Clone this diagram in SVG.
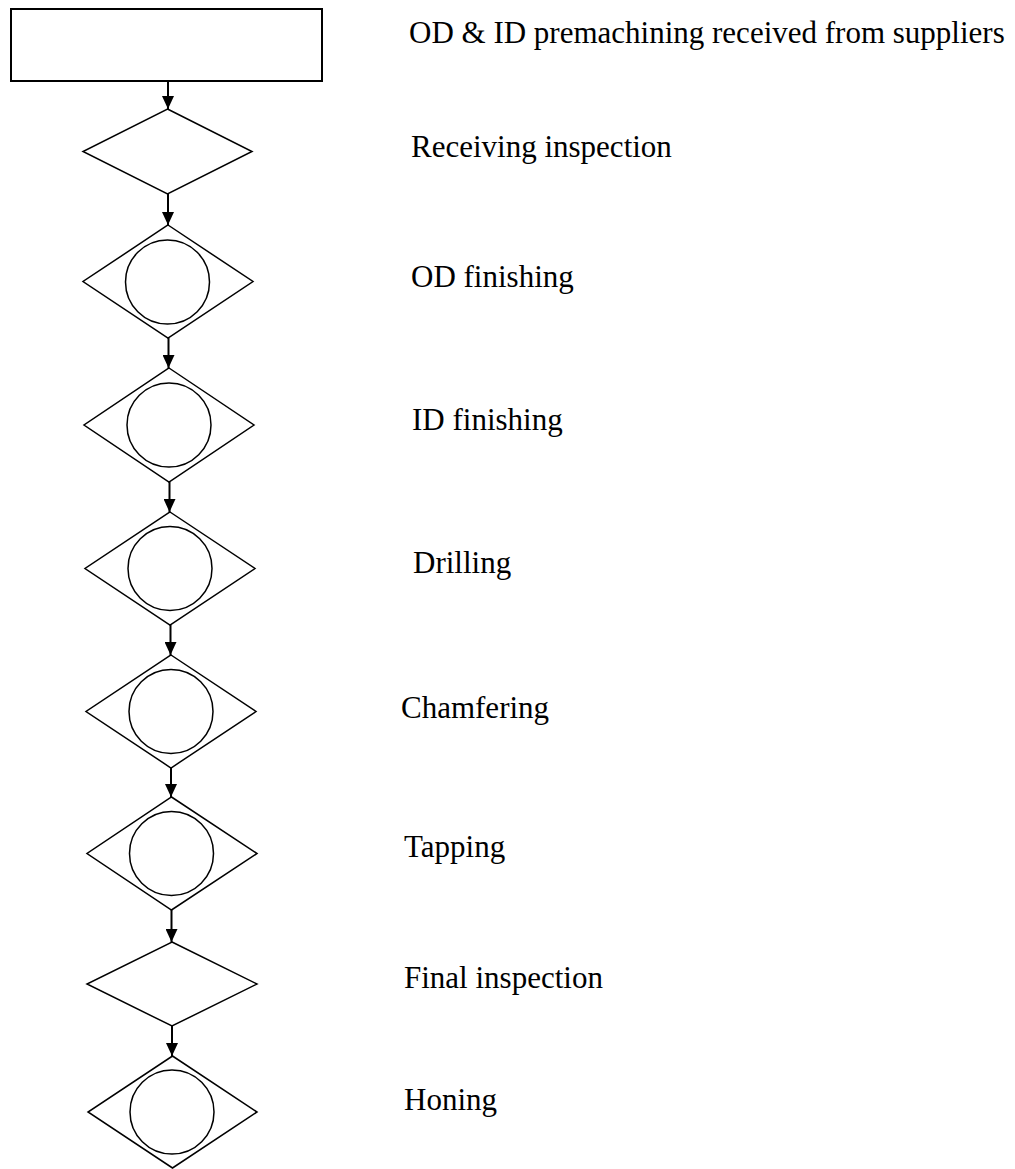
<svg xmlns="http://www.w3.org/2000/svg" width="1015" height="1169" viewBox="0 0 1015 1169">
  <defs>
    <style>
      .box { fill: #fff; stroke: #000; stroke-width: 2; }
      .shape { fill: #fff; stroke: #000; stroke-width: 1.5; }
      .link { fill: none; stroke: #000; stroke-width: 2; }
      .label { font-family: "Liberation Serif", "Times New Roman", serif; font-size: 31px; fill: #000; }
    </style>
    <marker id="arrow" viewBox="0 0 13 12" refX="13" refY="6" markerWidth="13" markerHeight="12" markerUnits="userSpaceOnUse" orient="auto">
      <path d="M0,0 L13,6 L0,12 z" fill="#000"/>
    </marker>
  </defs>
  <rect width="1015" height="1169" fill="#fff"/>

  <!-- connectors between consecutive steps -->
  <g id="connectors">
    <line class="link" x1="168" y1="81" x2="168" y2="109" marker-end="url(#arrow)"/>
    <line class="link" x1="168" y1="194" x2="168" y2="225" marker-end="url(#arrow)"/>
    <line class="link" x1="168.5" y1="338" x2="168.5" y2="368" marker-end="url(#arrow)"/>
    <line class="link" x1="169.5" y1="482" x2="169.5" y2="512" marker-end="url(#arrow)"/>
    <line class="link" x1="170.5" y1="625" x2="170.5" y2="655" marker-end="url(#arrow)"/>
    <line class="link" x1="171" y1="768" x2="171" y2="797" marker-end="url(#arrow)"/>
    <line class="link" x1="171.5" y1="910" x2="171.5" y2="942" marker-end="url(#arrow)"/>
    <line class="link" x1="172" y1="1026" x2="172" y2="1056" marker-end="url(#arrow)"/>
  </g>

  <g id="node-receipt">
    <rect class="box" x="11" y="9" width="311" height="72"/>
    <text class="label" x="409" y="43">OD &amp; ID premachining received from suppliers</text>
  </g>

  <g id="node-receiving-inspection">
    <polygon class="shape" points="167.5,109 252,151.5 167.5,194 83,151.5"/>
    <text class="label" x="411" y="157">Receiving inspection</text>
  </g>

  <g id="node-od-finishing">
    <polygon class="shape" points="168,225 253,281.5 168,338 83,281.5"/>
    <circle class="shape" cx="167.5" cy="282" r="42"/>
    <text class="label" x="411" y="287">OD finishing</text>
  </g>

  <g id="node-id-finishing">
    <polygon class="shape" points="169,368 254,425 169,482 84,425"/>
    <circle class="shape" cx="169" cy="425" r="42"/>
    <text class="label" x="412" y="430">ID finishing</text>
  </g>

  <g id="node-drilling">
    <polygon class="shape" points="170,512 255,568.5 170,625 85,568.5"/>
    <circle class="shape" cx="170" cy="568.5" r="42"/>
    <text class="label" x="413" y="573">Drilling</text>
  </g>

  <g id="node-chamfering">
    <polygon class="shape" points="171,655 256,711.5 171,768 86,711.5"/>
    <circle class="shape" cx="171" cy="711.5" r="42"/>
    <text class="label" x="401" y="718">Chamfering</text>
  </g>

  <g id="node-tapping">
    <polygon class="shape" points="171.5,797 257,853.5 171.5,910 87,853.5"/>
    <circle class="shape" cx="171.5" cy="853.5" r="42"/>
    <text class="label" x="404" y="857">Tapping</text>
  </g>

  <g id="node-final-inspection">
    <polygon class="shape" points="172,942 257,984 172,1026 87,984"/>
    <text class="label" x="404" y="988">Final inspection</text>
  </g>

  <g id="node-honing">
    <polygon class="shape" points="172.5,1056 257,1112 172.5,1168 88,1112"/>
    <circle class="shape" cx="172" cy="1112" r="42"/>
    <text class="label" x="404" y="1110">Honing</text>
  </g>
</svg>
